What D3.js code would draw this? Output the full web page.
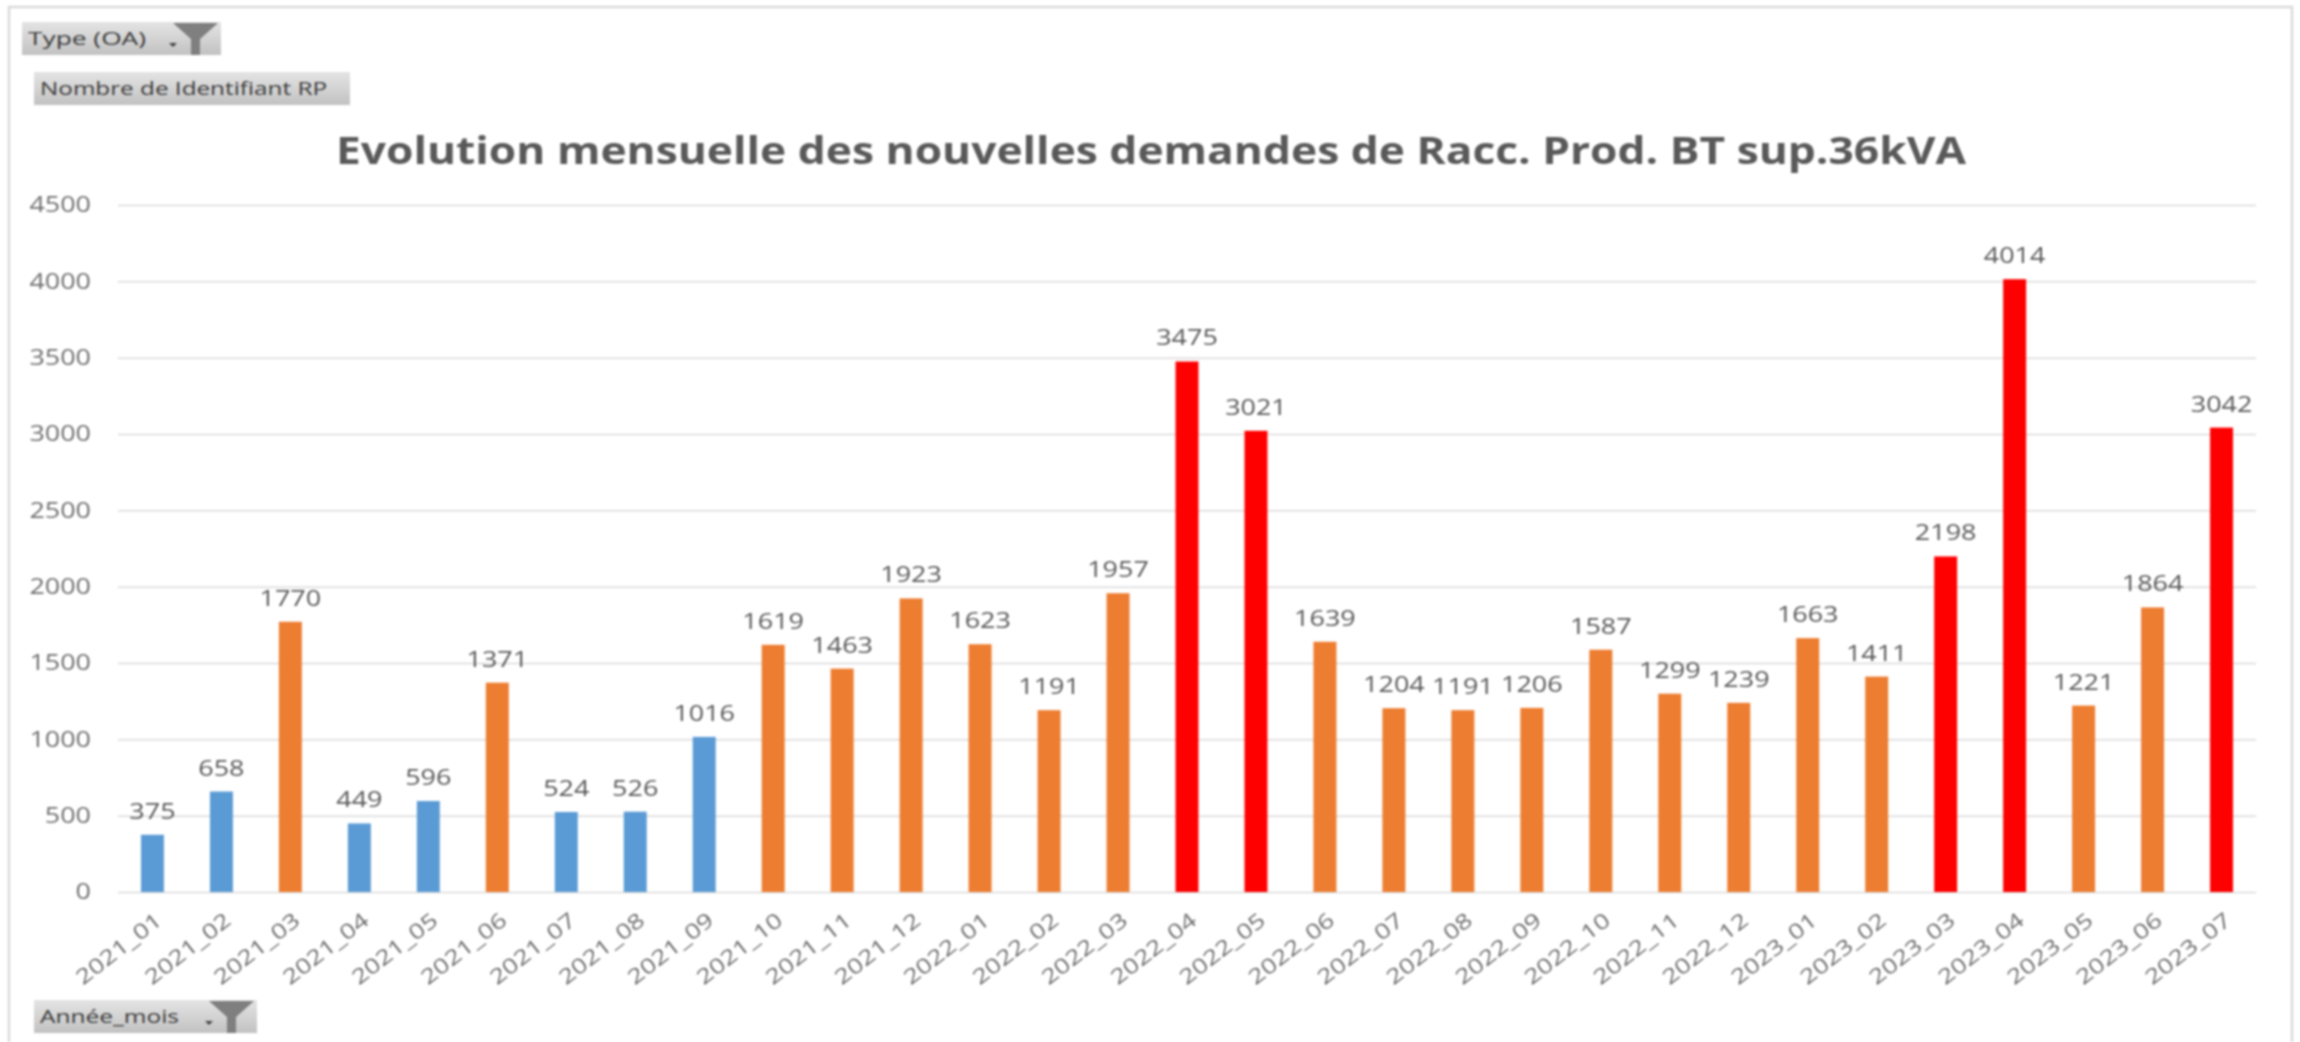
<!DOCTYPE html>
<html>
<head>
<meta charset="utf-8">
<script src="https://cdn.jsdelivr.net/npm/d3@7"></script>
<style>
    html, body { margin: 0; padding: 0; background: #fff; overflow: hidden; }
    svg { display: block; filter: blur(0.8px); }
    text { font-family: "Open Sans", sans-serif; }
</style>
</head>
<body>
<div id="chart"></div>
<script>
var months = ["2021_01","2021_02","2021_03","2021_04","2021_05","2021_06","2021_07","2021_08","2021_09",
    "2021_10","2021_11","2021_12","2022_01","2022_02","2022_03","2022_04","2022_05","2022_06","2022_07",
    "2022_08","2022_09","2022_10","2022_11","2022_12","2023_01","2023_02","2023_03","2023_04","2023_05",
    "2023_06","2023_07"];
var counts = [375,658,1770,449,596,1371,524,526,1016,1619,1463,1923,1623,1191,1957,3475,3021,1639,1204,
    1191,1206,1587,1299,1239,1663,1411,2198,4014,1221,1864,3042];
// b = blue, o = orange, r = red, colour is set by hand on each bar in the original
var classes = ["b","b","o","b","b","o","b","b","b","o","o","o","o","o","o","r","r","o","o",
    "o","o","o","o","o","o","o","r","r","o","o","r"];
var yTicks = [0,500,1000,1500,2000,2500,3000,3500,4000,4500];
var classColors = {b: "#5b9bd5", o: "#ed7d31", r: "#ff0000"};

var width = 2300, height = 1042;
var left = 118, right = 2256, top_ = 205, bottom = 892;
var digitWidth = 15.4; // the picture is stretched sideways, so text widths are forced

var svg = d3.select("#chart").append("svg")
    .attr("width", width)
    .attr("height", height);

var defs = svg.append("defs");
var grad = defs.append("linearGradient")
    .attr("id", "btn")
    .attr("x1", 0).attr("y1", 0).attr("x2", 0).attr("y2", 1);
grad.append("stop").attr("offset", "0%").attr("stop-color", "#e4e4e4");
grad.append("stop").attr("offset", "100%").attr("stop-color", "#c2c2c2");

// frame
svg.append("path")
    .attr("d", "M9,1042V7H2292V1042")
    .attr("fill", "none")
    .attr("stroke", "#d9d9d9")
    .attr("stroke-width", 2.5);

var x = d3.scaleBand().domain(months).range([left, right]).paddingInner(0.667).paddingOuter(0.333);
var y = d3.scaleLinear().domain([0, 4500]).range([bottom, top_]);

// grid and y labels
var yAxis = svg.append("g")
    .attr("transform", "translate(" + left + ",0)")
    .call(d3.axisLeft(y).tickValues(yTicks).tickSize(-(right - left)).tickPadding(27).tickFormat(d3.format("d")));
yAxis.select(".domain").remove();
yAxis.selectAll("line").attr("stroke", "#d9d9d9").attr("stroke-width", 1.5);
yAxis.selectAll("text")
    .attr("fill", "#6f6f6f")
    .attr("textLength", function(d) { return String(d).length * digitWidth })
    .attr("lengthAdjust", "spacingAndGlyphs")
    .style("font-size", "21px");

// bars
svg.selectAll(".bar")
    .data(months)
    .enter().append("rect")
    .attr("class", "bar")
    .attr("x", function(d) { return x(d) })
    .attr("width", x.bandwidth())
    .attr("y", function(d, i) { return y(counts[i]) })
    .attr("height", function(d, i) { return y(0) - y(counts[i]) })
    .attr("fill", function(d, i) { return classColors[classes[i]] });

// data labels
svg.selectAll(".value")
    .data(months)
    .enter().append("text")
    .attr("class", "value")
    .attr("x", function(d) { return x(d) + x.bandwidth() / 2 })
    .attr("y", function(d, i) { return y(counts[i]) - 16 })
    .attr("text-anchor", "middle")
    .attr("fill", "#595959")
    .attr("textLength", function(d, i) { return String(counts[i]).length * digitWidth })
    .attr("lengthAdjust", "spacingAndGlyphs")
    .style("font-size", "21px")
    .text(function(d, i) { return counts[i] });

// x labels
var xAxis = svg.append("g")
    .attr("transform", "translate(0," + bottom + ")")
    .call(d3.axisBottom(x).tickSize(0).tickPadding(0));
xAxis.select(".domain").remove();
xAxis.selectAll("text")
    .attr("fill", "#6f6f6f")
    .attr("text-anchor", "end")
    .attr("dy", 0)
    .attr("y", 0)
    .attr("transform", "translate(11,31) rotate(-38)")
    .attr("textLength", 102)
    .attr("lengthAdjust", "spacingAndGlyphs")
    .style("font-size", "21px");

// title
svg.append("text")
    .attr("x", 1151)
    .attr("y", 164)
    .attr("text-anchor", "middle")
    .attr("fill", "#595959")
    .attr("textLength", 1630)
    .attr("lengthAdjust", "spacingAndGlyphs")
    .style("font-size", "37px")
    .style("font-weight", "bold")
    .text("Evolution mensuelle des nouvelles demandes de Racc. Prod. BT sup.36kVA");

// pivot field buttons
function fieldButton(px, py, w, label, labelWidth, hasFilter) {
    var g = svg.append("g").attr("transform", "translate(" + px + "," + py + ")");
    g.append("rect").attr("width", w).attr("height", 33).attr("fill", "url(#btn)");
    g.append("text").attr("x", 6).attr("y", 23)
        .attr("fill", "#3a3a3a")
        .attr("textLength", labelWidth)
        .attr("lengthAdjust", "spacingAndGlyphs")
        .style("font-size", "19px")
        .text(label);
    if (hasFilter) {
        g.append("path")
            .attr("d", "M" + (w - 48) + ",1H" + (w - 3) + "L" + (w - 21) + ",17V33H" + (w - 30) + "V17Z")
            .attr("fill", "#7f7f7f");
        g.append("path")
            .attr("d", "M" + (w - 52) + ",21H" + (w - 44) + "L" + (w - 48) + ",25Z")
            .attr("fill", "#404040");
    }
}
fieldButton(22, 22, 199, "Type (OA)", 118, true);
fieldButton(34, 72, 316, "Nombre de Identifiant RP", 287, false);
fieldButton(34, 1000, 223, "Année_mois", 139, true);
</script>
</body>
</html>
